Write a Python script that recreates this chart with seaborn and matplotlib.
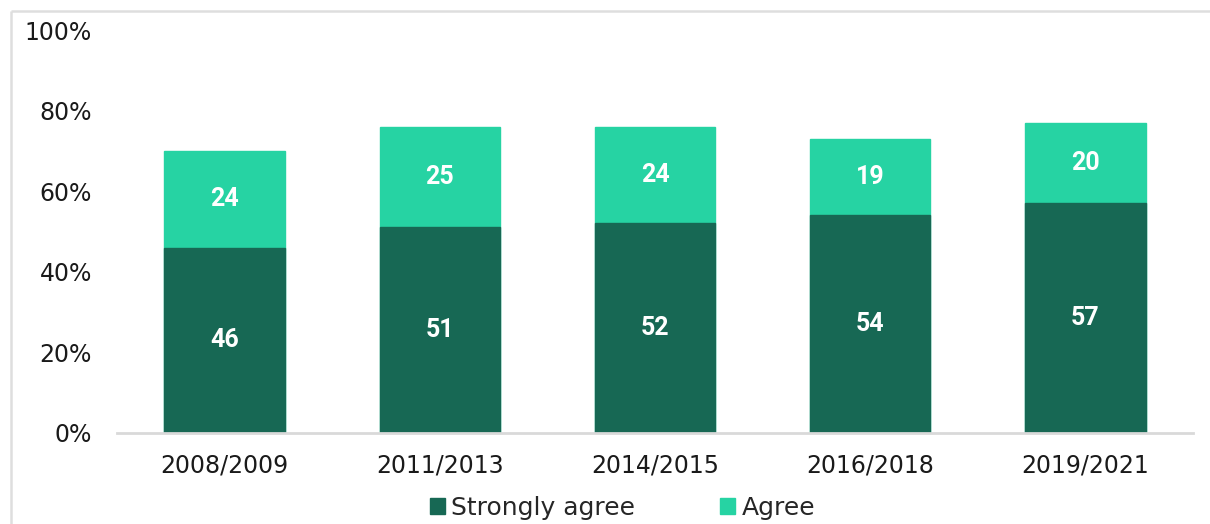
import numpy as np
import pandas as pd
import matplotlib
matplotlib.use("Agg")
import matplotlib.pyplot as plt
import seaborn as sns
from matplotlib.patches import Patch
from matplotlib.lines import Line2D

periods = ['2008/2009', '2011/2013', '2014/2015', '2016/2018', '2019/2021']
strongly_agree = [46, 51, 52, 54, 57]
agree = [24, 25, 24, 19, 20]

DARK = '#176854'
LIGHT = '#26D3A3'

sns.set_style("white")
plt.rcParams['font.family'] = ['DejaVu Sans']

df = pd.DataFrame({'period': periods,
                   'strong': np.array(strongly_agree) / 100,
                   'total': (np.array(strongly_agree) + np.array(agree)) / 100})

fig = plt.figure(figsize=(12.1, 5.24), dpi=100)
ax = fig.add_axes([117 / 1210, 1 - 433 / 524, 1076 / 1210, 403 / 524])

sns.barplot(data=df, x='period', y='total', color=LIGHT, width=0.56,
            saturation=1, ax=ax, edgecolor=LIGHT)
sns.barplot(data=df, x='period', y='strong', color=DARK, width=0.56,
            saturation=1, ax=ax, edgecolor=DARK)

for i, (s, a) in enumerate(zip(strongly_agree, agree)):
    ax.text(i, s / 200, str(s), ha='center', va='center', color='white',
            fontsize=18, fontweight='bold', family='Roboto')
    ax.text(i, (s + a / 2) / 100, str(a), ha='center', va='center', color='white',
            fontsize=18, fontweight='bold', family='Roboto')

ax.set_ylim(0, 1)
ax.set_xlim(-0.5, 4.5)
ax.set_yticks(np.arange(0, 1.01, 0.2))
ax.set_yticklabels([f'{int(v * 100)}%' for v in np.arange(0, 1.01, 0.2)])
ax.set_xlabel('')
ax.set_ylabel('')
ax.tick_params(axis='y', length=0, pad=18, labelsize=17, labelcolor='#1a1a1a')
ax.tick_params(axis='x', length=0, pad=15, labelsize=17, labelcolor='#1a1a1a')
for side in ['top', 'right', 'left']:
    ax.spines[side].set_visible(False)
ax.spines['bottom'].set_color('#d9d9d9')
ax.spines['bottom'].set_linewidth(2)

handles = [Patch(color=DARK, label='Strongly agree'), Patch(color=LIGHT, label='Agree')]
fig.legend(handles=handles, loc='center', bbox_to_anchor=(0.5145, 0.031), ncol=2,
           frameon=False, fontsize=18, handlelength=0.6, handleheight=0.6,
           handletextpad=0.25, columnspacing=3.4)

# outer frame: top and left edges only
bx, by = 11 / 1210, 1 - 11 / 524
fig.add_artist(Line2D([bx, 1.0], [by, by], transform=fig.transFigure,
                      color='#dedede', linewidth=1.8, solid_capstyle='butt'))
fig.add_artist(Line2D([bx, bx], [0.0, by], transform=fig.transFigure,
                      color='#dedede', linewidth=1.8, solid_capstyle='butt'))

fig.savefig('out.png', dpi=100)
